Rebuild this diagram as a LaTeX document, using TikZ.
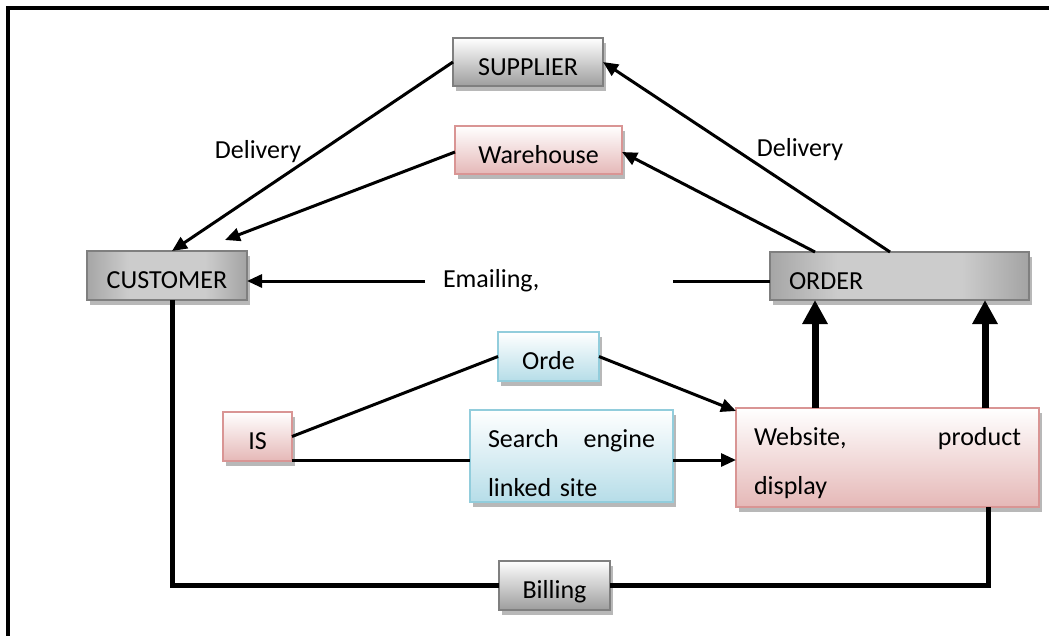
\documentclass[tikz,border=0pt]{standalone}
\usepackage{fontspec}
\setmainfont{Carlito}
\usetikzlibrary{arrows.meta,shadows,calc}

\definecolor{pinkline}{HTML}{D99594}
\definecolor{pinkfill}{HTML}{E5B8B7}
\definecolor{blueline}{HTML}{92CDDC}
\definecolor{bluefill}{HTML}{B6DDE8}
\definecolor{greyline}{HTML}{7F7F7F}

% metallic fill: darker edges, broad light centre
\pgfdeclarehorizontalshading{steel}{100bp}{color(0bp)=(black!58); color(12bp)=(black!50); color(38bp)=(black!20); color(62bp)=(black!20); color(88bp)=(black!52); color(100bp)=(black!62)}

\begin{document}
\begin{tikzpicture}[x=1pt,y=-1pt,
  font=\fontsize{26}{49}\selectfont,
  box/.style={draw, line width=2pt, inner sep=0pt, outer sep=0pt,
    drop shadow={shadow xshift=3pt, shadow yshift=-5pt, fill=black, opacity=0.28}},
  onerow/.style={text height=26pt, text depth=0pt},
  greybox/.style={box, onerow, draw=greyline, top color=white, bottom color=black!38},
  darkbox/.style={box, onerow, draw=greyline, shade, shading=steel},
  pinkbox/.style={box, draw=pinkline, top color=white, bottom color=pinkfill},
  bluebox/.style={box, draw=blueline, top color=white, bottom color=bluefill},
  link/.style={line width=3pt},
  arr/.style={link, -{Triangle[length=15pt,width=13pt]}},
  bigarr/.style={line width=7pt, -{Triangle[length=24pt,width=24pt]}},
  caption/.style={inner sep=0pt, outer sep=0pt}
]
\useasboundingbox (0,0) rectangle (1049,635);

% frame
\draw[line width=4pt] (8,645) -- (8,8) -- (1060,8);

% boxes
\node[greybox, minimum width=150pt, minimum height=48pt] (supplier) at (528,62) {SUPPLIER};
\node[pinkbox, onerow, minimum width=167pt, minimum height=48pt] (warehouse) at (538.5,150) {Warehouse};
\node[darkbox, minimum width=160pt, minimum height=49pt] (customer) at (167,275.5) {CUSTOMER};
\node[darkbox, minimum width=259pt, minimum height=48pt, text width=221pt, align=left] (order) at (899.5,276) {ORDER};
\node[bluebox, onerow, minimum width=101pt, minimum height=49pt] (orde) at (548.5,356.5) {Orde};
\node[pinkbox, onerow, minimum width=69pt, minimum height=49pt] (is) at (257.5,436.5) {IS};
\node[bluebox, minimum width=203pt, minimum height=92pt, text width=167pt, align=left] (search) at (571.5,456)
  {\rule{0pt}{32pt}Search\hfill engine\\linked site};
\node[pinkbox, minimum width=303pt, minimum height=99pt, text width=267pt, align=left] (website) at (887.5,457.5)
  {\rule{0pt}{30pt}Website,\hfill product\\display};
\node[greybox, minimum width=111pt, minimum height=49pt] (billing) at (554.5,585) {Billing};

% labels
\node[caption] (delivl) at (258,152) {Delivery};
\node[caption] (delivr) at (800,150) {Delivery};
\node[caption, minimum width=248pt, text width=212pt, align=left] (email) at (549,281) {Emailing,};

% connectors
\coordinate (wtip) at (225,240);
\draw[arr] (supplier.west) -- ($(customer.north)+(5,0)$);
\draw[arr] ($(warehouse.west)+(0,2)$) -- (wtip);
\draw[arr] ($(order.north west)+(120,0)$) -- (supplier.east);
\draw[arr] ($(order.north west)+(45,0)$) -- ($(warehouse.east)+(0,2)$);
\draw[link] (order.west |- email) -- (email.east);
\draw[arr] (email.west) -- (customer.east |- email);
\draw[link] (is.east) -- (orde.west);
\draw[arr] (orde.east) -- ($(website.north west)+(0,3)$);
\coordinate (lowrow) at ($(is.south east)+(0,-1)$);
\draw[link] (lowrow) -- (search.west |- lowrow);
\draw[arr] (search.east |- lowrow) -- (website.west |- lowrow);
\draw[bigarr] ($(website.north west)+(79,0)$) -- ($(order.south west)+(45,0)$);
\draw[bigarr] ($(website.north west)+(249,0)$) -- ($(order.south west)+(215,0)$);
\draw[line width=5pt] ($(customer.south west)+(85,0)$) |- (billing.west);
\draw[line width=5pt] (billing.east) -| ($(website.south west)+(252,0)$);
\end{tikzpicture}
\end{document}
